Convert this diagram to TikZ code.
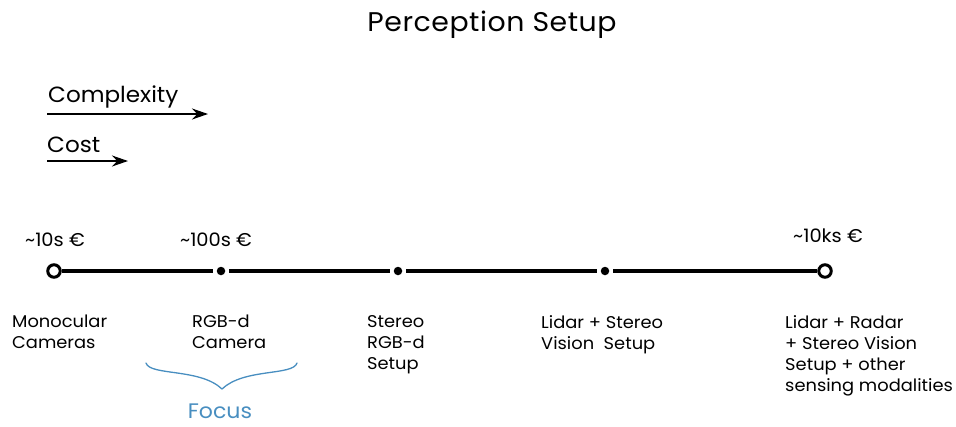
\documentclass[tikz,border=0pt]{standalone}
\usepackage{fontspec}
\setmainfont{Poppins}[FakeStretch=1.05]
\usetikzlibrary{arrows.meta}
\definecolor{focusblue}{RGB}{72,142,192}
\tikzset{
  label/.style={anchor=north west, inner sep=0pt, align=left, font=\fontsize{17}{21}\selectfont},
  price/.style={anchor=base west, inner sep=0pt, font=\fontsize{18.5}{21}\selectfont},
  axislabel/.style={anchor=base west, inner sep=0pt, font=\fontsize{22}{24}\selectfont},
  axisarrow/.style={line width=2pt, -{Stealth[length=16pt,width=11pt]}},
  timeline/.style={line width=3.2pt},
  endpoint/.style={circle, draw, line width=3pt, fill=white, minimum size=12.5pt, inner sep=0pt},
  midpoint/.style={circle, fill, minimum size=8.5pt, inner sep=0pt},
}
\begin{document}
\begin{tikzpicture}[x=1pt, y=-1pt]
  \useasboundingbox (0,0) rectangle (956,426);

  % title
  \node[anchor=base, inner sep=0pt, font=\fontsize{27}{30}\selectfont\addfontfeatures{LetterSpace=2}] (title) at (492,31) {Perception Setup};

  % direction arrows
  \node[axislabel] (cplx) at (48,102) {Complexity};
  \coordinate (cplxA) at (47,114);
  \coordinate (cplxB) at (208,114);
  \draw[axisarrow] (cplxA) -- (cplxB);
  \node[axislabel] (cost) at (47,152) {Cost};
  \coordinate (costA) at (47,161);
  \coordinate (costB) at (128,161);
  \draw[axisarrow] (costA) -- (costB);

  % timeline points
  \node[endpoint] (p1) at (54,271) {};
  \node[midpoint] (p2) at (221,271) {};
  \node[midpoint] (p3) at (398,271) {};
  \node[midpoint] (p4) at (605,271) {};
  \node[endpoint] (p5) at (825,271) {};
  \draw[timeline, shorten >=4pt] (p1) -- (p2);
  \draw[timeline, shorten <=4pt, shorten >=4pt] (p2) -- (p3);
  \draw[timeline, shorten <=4pt, shorten >=4pt] (p3) -- (p4);
  \draw[timeline, shorten <=4pt] (p4) -- (p5);

  % prices
  \node[price] (c1) at (25,246) {\textasciitilde10s €};
  \node[price] (c2) at (180,246) {\textasciitilde100s €};
  \node[price] (c5) at (793,242) {\textasciitilde10ks €};

  % setups
  \node[label] (l1) at (12,315) {Monocular\\Cameras};
  \node[label] (l2) at (192,315) {RGB-d\\Camera};
  \node[label] (l3) at (367,315) {Stereo\\RGB-d\\Setup};
  \node[label] (l4) at (541,315) {Lidar + Stereo\\Vision\ \ Setup};
  \node[label] (l5) at (785,315) {Lidar + Radar\\+ Stereo Vision\\Setup + other\\sensing modalities};

  % focus brace
  \draw[focusblue, line width=1.3pt, line cap=round, line join=round]
    (146,363) .. controls (150,376) and (200,368) .. (222,389)
              .. controls (244,368) and (293,376) .. (297,363);
  \node[focusblue, anchor=base, inner sep=0pt, font=\fontsize{21}{24}\selectfont] (focus) at (220,418) {Focus};
\end{tikzpicture}
\end{document}
